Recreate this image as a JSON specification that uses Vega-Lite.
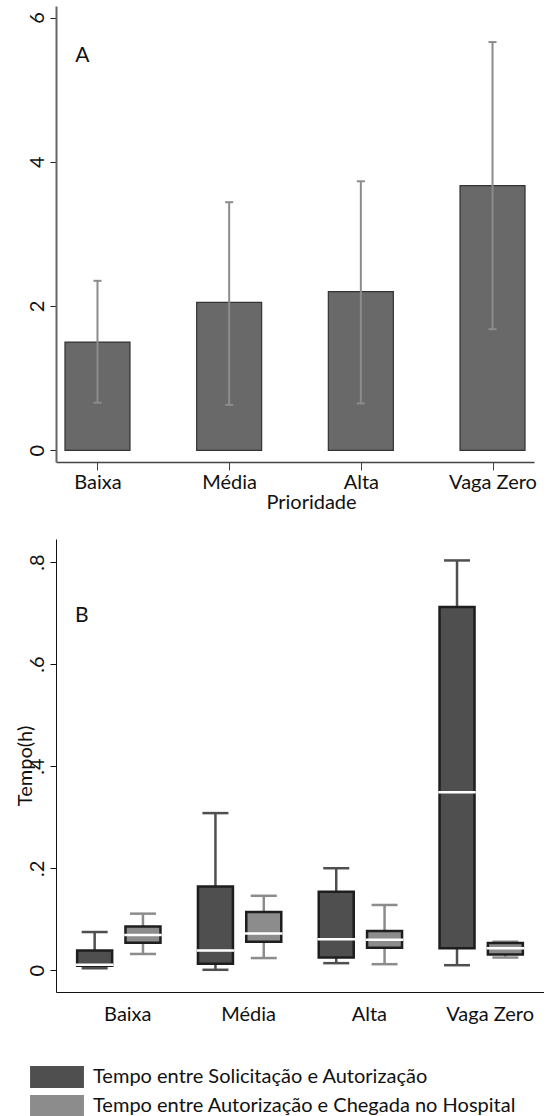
{
  "$schema": "https://vega.github.io/schema/vega-lite/v6.json",
  "padding": {"left": 14, "top": 6, "right": 0, "bottom": 0},
  "spacing": 27,
  "datasets": {
    "barras": [
      {"prioridade": "Baixa", "media": 1.50, "lo": 0.66, "hi": 2.35},
      {"prioridade": "Média", "media": 2.05, "lo": 0.63, "hi": 3.44},
      {"prioridade": "Alta", "media": 2.20, "lo": 0.65, "hi": 3.73},
      {"prioridade": "Vaga Zero", "media": 3.67, "lo": 1.68, "hi": 5.66}
    ],
    "caixas": [
      {"prioridade": "Baixa", "serie": "Tempo entre Solicitação e Autorização", "lower": 0.004, "q1": 0.009, "median": 0.011, "q3": 0.039, "upper": 0.075},
      {"prioridade": "Baixa", "serie": "Tempo entre Autorização e Chegada no Hospital", "lower": 0.032, "q1": 0.054, "median": 0.069, "q3": 0.086, "upper": 0.111},
      {"prioridade": "Média", "serie": "Tempo entre Solicitação e Autorização", "lower": 0.001, "q1": 0.013, "median": 0.039, "q3": 0.164, "upper": 0.308},
      {"prioridade": "Média", "serie": "Tempo entre Autorização e Chegada no Hospital", "lower": 0.024, "q1": 0.056, "median": 0.072, "q3": 0.114, "upper": 0.146},
      {"prioridade": "Alta", "serie": "Tempo entre Solicitação e Autorização", "lower": 0.014, "q1": 0.025, "median": 0.061, "q3": 0.154, "upper": 0.200},
      {"prioridade": "Alta", "serie": "Tempo entre Autorização e Chegada no Hospital", "lower": 0.012, "q1": 0.044, "median": 0.060, "q3": 0.077, "upper": 0.128},
      {"prioridade": "Vaga Zero", "serie": "Tempo entre Solicitação e Autorização", "lower": 0.010, "q1": 0.043, "median": 0.349, "q3": 0.712, "upper": 0.803},
      {"prioridade": "Vaga Zero", "serie": "Tempo entre Autorização e Chegada no Hospital", "lower": 0.025, "q1": 0.031, "median": 0.043, "q3": 0.0535, "upper": 0.056}
    ]
  },
  "vconcat": [
    {
      "width": 478,
      "height": 456,
      "data": {"name": "barras"},
      "encoding": {
        "x": {
          "field": "prioridade", "type": "nominal",
          "sort": ["Baixa", "Média", "Alta", "Vaga Zero"],
          "scale": {"type": "point", "padding": 0.315},
          "axis": {"title": "Prioridade", "labelAngle": 0, "tickSize": 8, "labelPadding": 2, "titlePadding": 0, "titleX": 255, "domainColor": "#444", "tickColor": "#444", "domainWidth": 1.5}
        }
      },
      "layer": [
        {
          "mark": {"type": "bar", "width": 65, "fill": "#696969", "stroke": "#333333", "strokeWidth": 1.2},
          "encoding": {
            "y": {
              "field": "media", "type": "quantitative",
              "scale": {"domain": [-0.162, 6.16], "nice": false, "zero": false},
              "axis": {"values": [0, 2, 4, 6], "format": "d", "title": null, "labelAngle": -90, "tickSize": 6, "labelPadding": 3, "domainColor": "#666", "domainWidth": 2, "tickColor": "#222"}
            },
            "y2": {"datum": 0}
          }
        },
        {
          "mark": {"type": "rule", "color": "#8c8c8c", "strokeWidth": 2},
          "encoding": {"y": {"field": "lo", "type": "quantitative"}, "y2": {"field": "hi"}}
        },
        {
          "mark": {"type": "tick", "color": "#8c8c8c", "size": 8, "thickness": 2, "opacity": 1},
          "encoding": {"y": {"field": "hi", "type": "quantitative"}}
        },
        {
          "mark": {"type": "tick", "color": "#8c8c8c", "size": 8, "thickness": 2, "opacity": 1},
          "encoding": {"y": {"field": "lo", "type": "quantitative"}}
        },
        {
          "data": {"values": [{"rotulo": "A", "prioridade": "Baixa", "pos": 5.46}]},
          "mark": {"type": "text", "fontSize": 21, "font": "Lato", "color": "#111", "dx": -15},
          "encoding": {"y": {"field": "pos", "type": "quantitative"}, "text": {"field": "rotulo"}}
        }
      ]
    },
    {
      "width": 488,
      "height": 453,
      "data": {"name": "caixas"},
      "encoding": {
        "x": {
          "field": "prioridade", "type": "nominal",
          "sort": ["Baixa", "Média", "Alta", "Vaga Zero"],
          "scale": {"type": "band", "paddingInner": 0.2, "paddingOuter": 0.12},
          "axis": {"title": null, "labelAngle": 0, "ticks": false, "labelPadding": 12, "labelOffset": 9, "domainColor": "#111"}
        }
      },
      "layer": [
        {
          "mark": {"type": "rule", "strokeWidth": 2.5},
          "encoding": {
            "xOffset": {"field": "serie", "type": "nominal", "sort": ["Tempo entre Solicitação e Autorização", "Tempo entre Autorização e Chegada no Hospital"], "scale": {"paddingInner": 0, "paddingOuter": 0}},
            "y": {
              "field": "lower", "type": "quantitative",
              "scale": {"domain": [-0.0425, 0.845], "nice": false, "zero": false},
              "axis": {"values": [0, 0.2, 0.4, 0.6, 0.8], "labelExpr": "datum.value == 0 ? '0' : replace(format(datum.value, '.1f'), '0.', '.')", "title": "Tempo(h)", "labelAngle": -90, "tickSize": 6, "labelPadding": 3, "titlePadding": -8, "domainColor": "#111", "tickColor": "#111"}
            },
            "y2": {"field": "upper"},
            "color": {
              "field": "serie", "type": "nominal",
              "sort": ["Tempo entre Solicitação e Autorização", "Tempo entre Autorização e Chegada no Hospital"],
              "scale": {"domain": ["Tempo entre Solicitação e Autorização", "Tempo entre Autorização e Chegada no Hospital"], "range": ["#4f4f4f", "#8c8c8c"]},
              "legend": {
                "title": null, "orient": "none", "legendX": -10, "legendY": 1060, "direction": "vertical",
                "symbolType": "M-2.45,-1H2.45V1H-2.45Z", "symbolSize": 484, "symbolStrokeWidth": 0, "symbolOpacity": 1,
                "labelFont": "Lato", "labelFontSize": 20, "labelColor": "#111", "labelLimit": 0, "labelOffset": 25, "rowPadding": 7
              }
            }
          }
        },
        {
          "mark": {"type": "tick", "size": 26, "thickness": 2.5, "opacity": 1},
          "encoding": {
            "xOffset": {"field": "serie", "type": "nominal", "sort": ["Tempo entre Solicitação e Autorização", "Tempo entre Autorização e Chegada no Hospital"]},
            "y": {"field": "upper", "type": "quantitative"},
            "color": {"field": "serie", "type": "nominal"}
          }
        },
        {
          "mark": {"type": "tick", "size": 26, "thickness": 2.5, "opacity": 1},
          "encoding": {
            "xOffset": {"field": "serie", "type": "nominal", "sort": ["Tempo entre Solicitação e Autorização", "Tempo entre Autorização e Chegada no Hospital"]},
            "y": {"field": "lower", "type": "quantitative"},
            "color": {"field": "serie", "type": "nominal"}
          }
        },
        {
          "mark": {"type": "bar", "width": 35, "stroke": "#1e1e1e", "strokeWidth": 2.5, "opacity": 1},
          "encoding": {
            "xOffset": {"field": "serie", "type": "nominal", "sort": ["Tempo entre Solicitação e Autorização", "Tempo entre Autorização e Chegada no Hospital"]},
            "y": {"field": "q1", "type": "quantitative"},
            "y2": {"field": "q3"},
            "color": {"field": "serie", "type": "nominal"}
          }
        },
        {
          "mark": {"type": "tick", "size": 37.5, "thickness": 2.5, "color": "#ffffff", "opacity": 1},
          "encoding": {
            "xOffset": {"field": "serie", "type": "nominal", "sort": ["Tempo entre Solicitação e Autorização", "Tempo entre Autorização e Chegada no Hospital"]},
            "y": {"field": "median", "type": "quantitative"}
          }
        },
        {
          "data": {"values": [{"rotulo": "B", "prioridade": "Baixa", "pos": 0.695}]},
          "mark": {"type": "text", "fontSize": 21, "font": "Lato", "color": "#111", "dx": -37},
          "encoding": {"y": {"field": "pos", "type": "quantitative"}, "text": {"field": "rotulo"}}
        }
      ]
    }
  ],
  "config": {
    "font": "Lato",
    "view": {"stroke": null},
    "axis": {"labelFont": "Lato", "labelFontSize": 20, "labelColor": "#111", "titleFont": "Lato", "titleFontSize": 20, "titleFontWeight": "normal", "titleColor": "#111", "grid": false}
  }
}
